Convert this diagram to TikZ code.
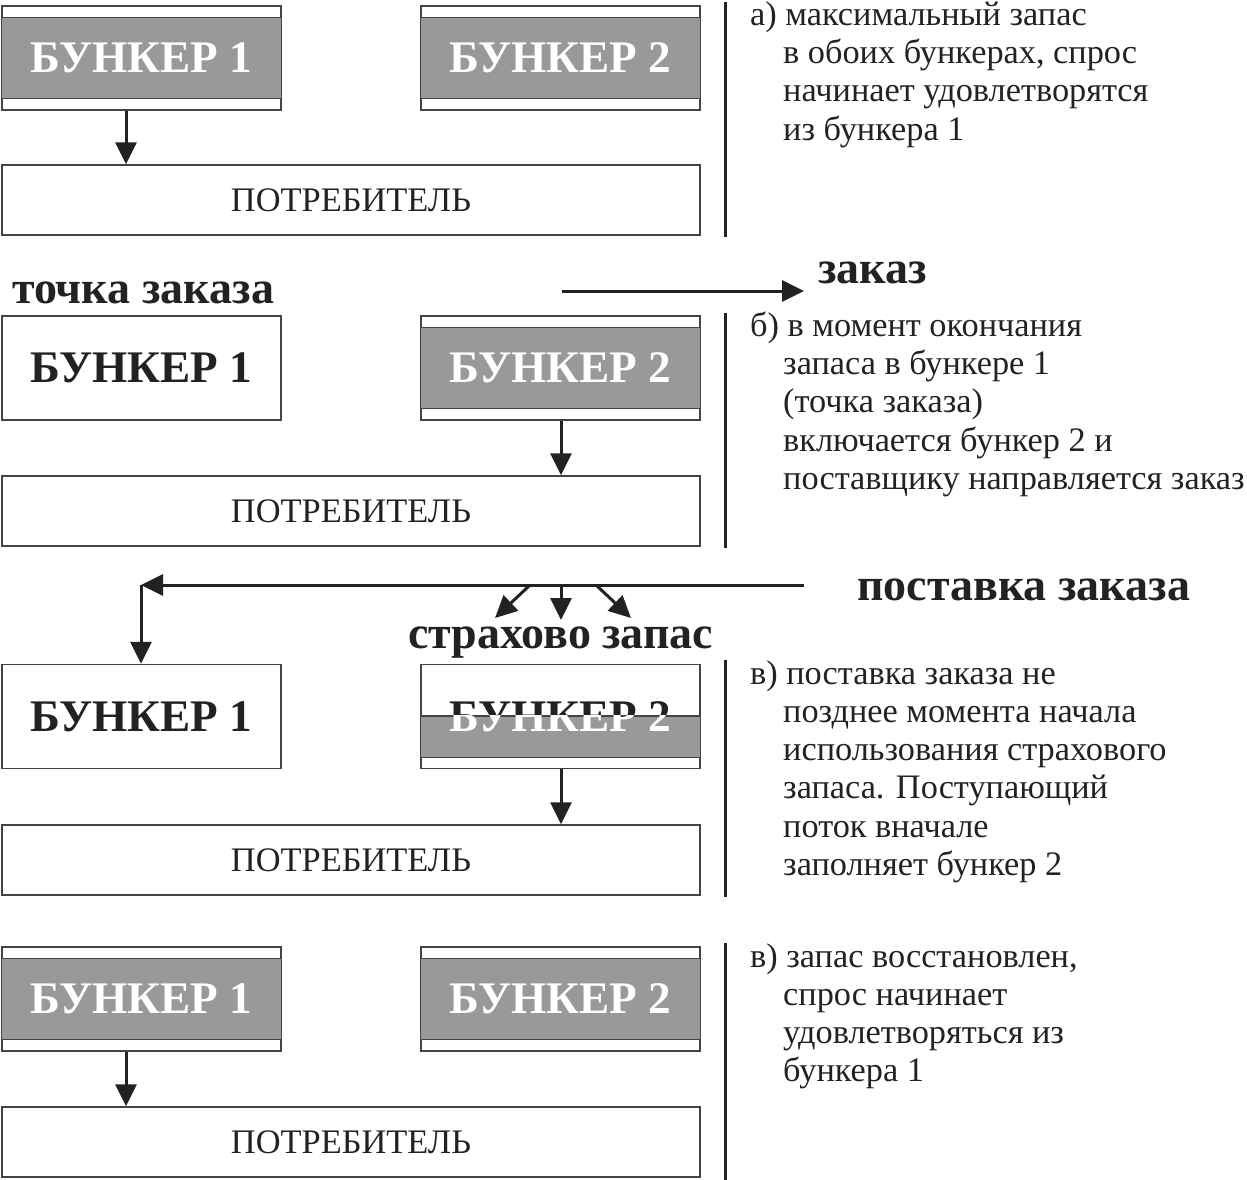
\documentclass[tikz,border=0pt]{standalone}
\usepackage{fontspec}
\setmainfont{Liberation Serif}
\usetikzlibrary{arrows.meta,calc}
\definecolor{ink}{HTML}{222222}
\definecolor{edge}{HTML}{444444}
\definecolor{band}{HTML}{999999}
\begin{document}
\begin{tikzpicture}[x=1pt,y=-1pt,
  bunkbox/.style={draw=edge, line width=1.4pt, fill=white, minimum width=279pt, minimum height=104pt, inner sep=0pt},
  bunktext/.style={font=\fontsize{45.2}{45.2}\selectfont\bfseries, text=ink, inner sep=0pt},
  bandfill/.style={fill=band, draw=edge, line width=1.4pt},
  consbox/.style={draw=edge, line width=1.4pt, minimum width=698pt, minimum height=70pt, inner sep=0pt, font=\fontsize{34.4}{34.4}\selectfont, text=ink},
  arr/.style={-{Triangle[length=22pt,width=21pt]}, line width=3pt, draw=ink},
  sep/.style={line width=3pt, draw=ink},
  note/.style={anchor=base west, inner sep=0pt, font=\fontsize{34.3}{34.3}\selectfont, text=ink},
  boldlab/.style={anchor=base west, inner sep=0pt, font=\fontsize{46}{46}\selectfont\bfseries, text=ink}
]
\useasboundingbox (0,0) rectangle (1247,1180);

% ---------- Row a ----------
\node[bunkbox] (a1) at (141.5,58) {};
\path[bandfill] ($(a1.north west)+(0,12)$) rectangle ($(a1.south east)+(0,-12)$);
\node[bunktext, text=white] (a1t) at (a1.center) {БУНКЕР 1};
\node[bunkbox] (a2) at (560.5,58) {};
\path[bandfill] ($(a2.north west)+(0,12)$) rectangle ($(a2.south east)+(0,-12)$);
\node[bunktext, text=white] (a2t) at (a2.center) {БУНКЕР 2};
\node[consbox] (ac) at (351,200) {ПОТРЕБИТЕЛЬ};
\draw[arr] (a1.south -| 126,0) -- (ac.north -| 126,0);
\coordinate (as1) at (725,2);
\coordinate (as2) at (725,237);
\draw[sep] (as1) -- (as2);
\node[note] (an1) at (750,26) {а) максимальный запас};
\node[note] (an2) at (783,64) {в обоих бункерах, спрос};
\node[note] (an3) at (783,102) {начинает удовлетворятся};
\node[note] (an4) at (783,140) {из бункера 1};

% ---------- Row b ----------
\node[boldlab] (bl1) at (12,303) {точка заказа};
\coordinate (bo1) at (562,291);
\coordinate (bo2) at (804,291);
\draw[arr] (bo1) -- (bo2);
\node[boldlab] (bl2) at (818,283) {заказ};
\node[bunkbox] (b1) at (141.5,368) {};
\node[bunktext] (b1t) at (b1.center) {БУНКЕР 1};
\node[bunkbox] (b2) at (560.5,368) {};
\path[bandfill] ($(b2.north west)+(0,12)$) rectangle ($(b2.south east)+(0,-12)$);
\node[bunktext, text=white] (b2t) at (b2.center) {БУНКЕР 2};
\node[consbox] (bc) at (351,511) {ПОТРЕБИТЕЛЬ};
\draw[arr] (b2.south -| 561,0) -- (bc.north -| 561,0);
\coordinate (bs1) at (725,313);
\coordinate (bs2) at (725,548);
\draw[sep] (bs1) -- (bs2);
\node[note] (bn1) at (750,336) {б) в момент окончания};
\node[note] (bn2) at (783,374) {запаса в бункере 1};
\node[note] (bn3) at (783,412) {(точка заказа)};
\node[note] (bn4) at (783,451) {включается бункер 2 и};
\node[note] (bn5) at (783,489) {поставщику направляется заказ};

% ---------- Row c ----------
\node[boldlab] (cl1) at (857,600) {поставка заказа};
\coordinate (cp1) at (804,585);
\coordinate (cp2) at (141,585);
\draw[arr] (cp1) -- (cp2);
\node[bunkbox] (c1) at (141.5,716.5) {};
\node[bunktext] (c1t) at (c1.center) {БУНКЕР 1};
\node[bunkbox] (c2) at (560.5,716.5) {};
\node[bunktext] (c2t) at (c2.center) {БУНКЕР 2};
\path[bandfill] ($(c2.north west)+(0,52)$) rectangle ($(c2.south east)+(0,-12)$);
\begin{scope}
  \clip ($(c2.north west)+(0,52)$) rectangle ($(c2.south east)+(0,-12)$);
  \node[bunktext, text=white] (c2w) at (c2.center) {БУНКЕР 2};
\end{scope}
\draw[arr] (cp2) -- (c1.north -| cp2);
\coordinate (cs0) at (561,585);
\coordinate (csl0) at (530,585);
\coordinate (csl1) at (495,618);
\coordinate (csm1) at (561,620);
\coordinate (csr0) at (596,585);
\coordinate (csr1) at (631,618);
\draw[arr] (csl0) -- (csl1);
\draw[arr] (cs0) -- (csm1);
\draw[arr] (csr0) -- (csr1);
\node[boldlab] (cl2) at (408,648) {страхово запас};
\node[consbox] (cc) at (351,860) {ПОТРЕБИТЕЛЬ};
\draw[arr] (c2.south -| 561,0) -- (cc.north -| 561,0);
\coordinate (cs1) at (725,660);
\coordinate (cs2) at (725,897);
\draw[sep] (cs1) -- (cs2);
\node[note] (cn1) at (750,684) {в) поставка заказа не};
\node[note] (cn2) at (783,722) {позднее момента начала};
\node[note] (cn3) at (783,760) {использования страхового};
\node[note] (cn4) at (783,798) {запаса. Поступающий};
\node[note] (cn5) at (783,837) {поток вначале};
\node[note] (cn6) at (783,875) {заполняет бункер 2};

% ---------- Row d ----------
\node[bunkbox] (d1) at (141.5,999) {};
\path[bandfill] ($(d1.north west)+(0,12)$) rectangle ($(d1.south east)+(0,-12)$);
\node[bunktext, text=white] (d1t) at (d1.center) {БУНКЕР 1};
\node[bunkbox] (d2) at (560.5,999) {};
\path[bandfill] ($(d2.north west)+(0,12)$) rectangle ($(d2.south east)+(0,-12)$);
\node[bunktext, text=white] (d2t) at (d2.center) {БУНКЕР 2};
\node[consbox] (dc) at (351,1142) {ПОТРЕБИТЕЛЬ};
\draw[arr] (d1.south -| 126,0) -- (dc.north -| 126,0);
\coordinate (ds1) at (725,943);
\coordinate (ds2) at (725,1180);
\draw[sep] (ds1) -- (ds2);
\node[note] (dn1) at (750,967) {в) запас восстановлен,};
\node[note] (dn2) at (783,1005) {спрос начинает};
\node[note] (dn3) at (783,1043) {удовлетворяться из};
\node[note] (dn4) at (783,1081) {бункера 1};
\end{tikzpicture}
\end{document}
